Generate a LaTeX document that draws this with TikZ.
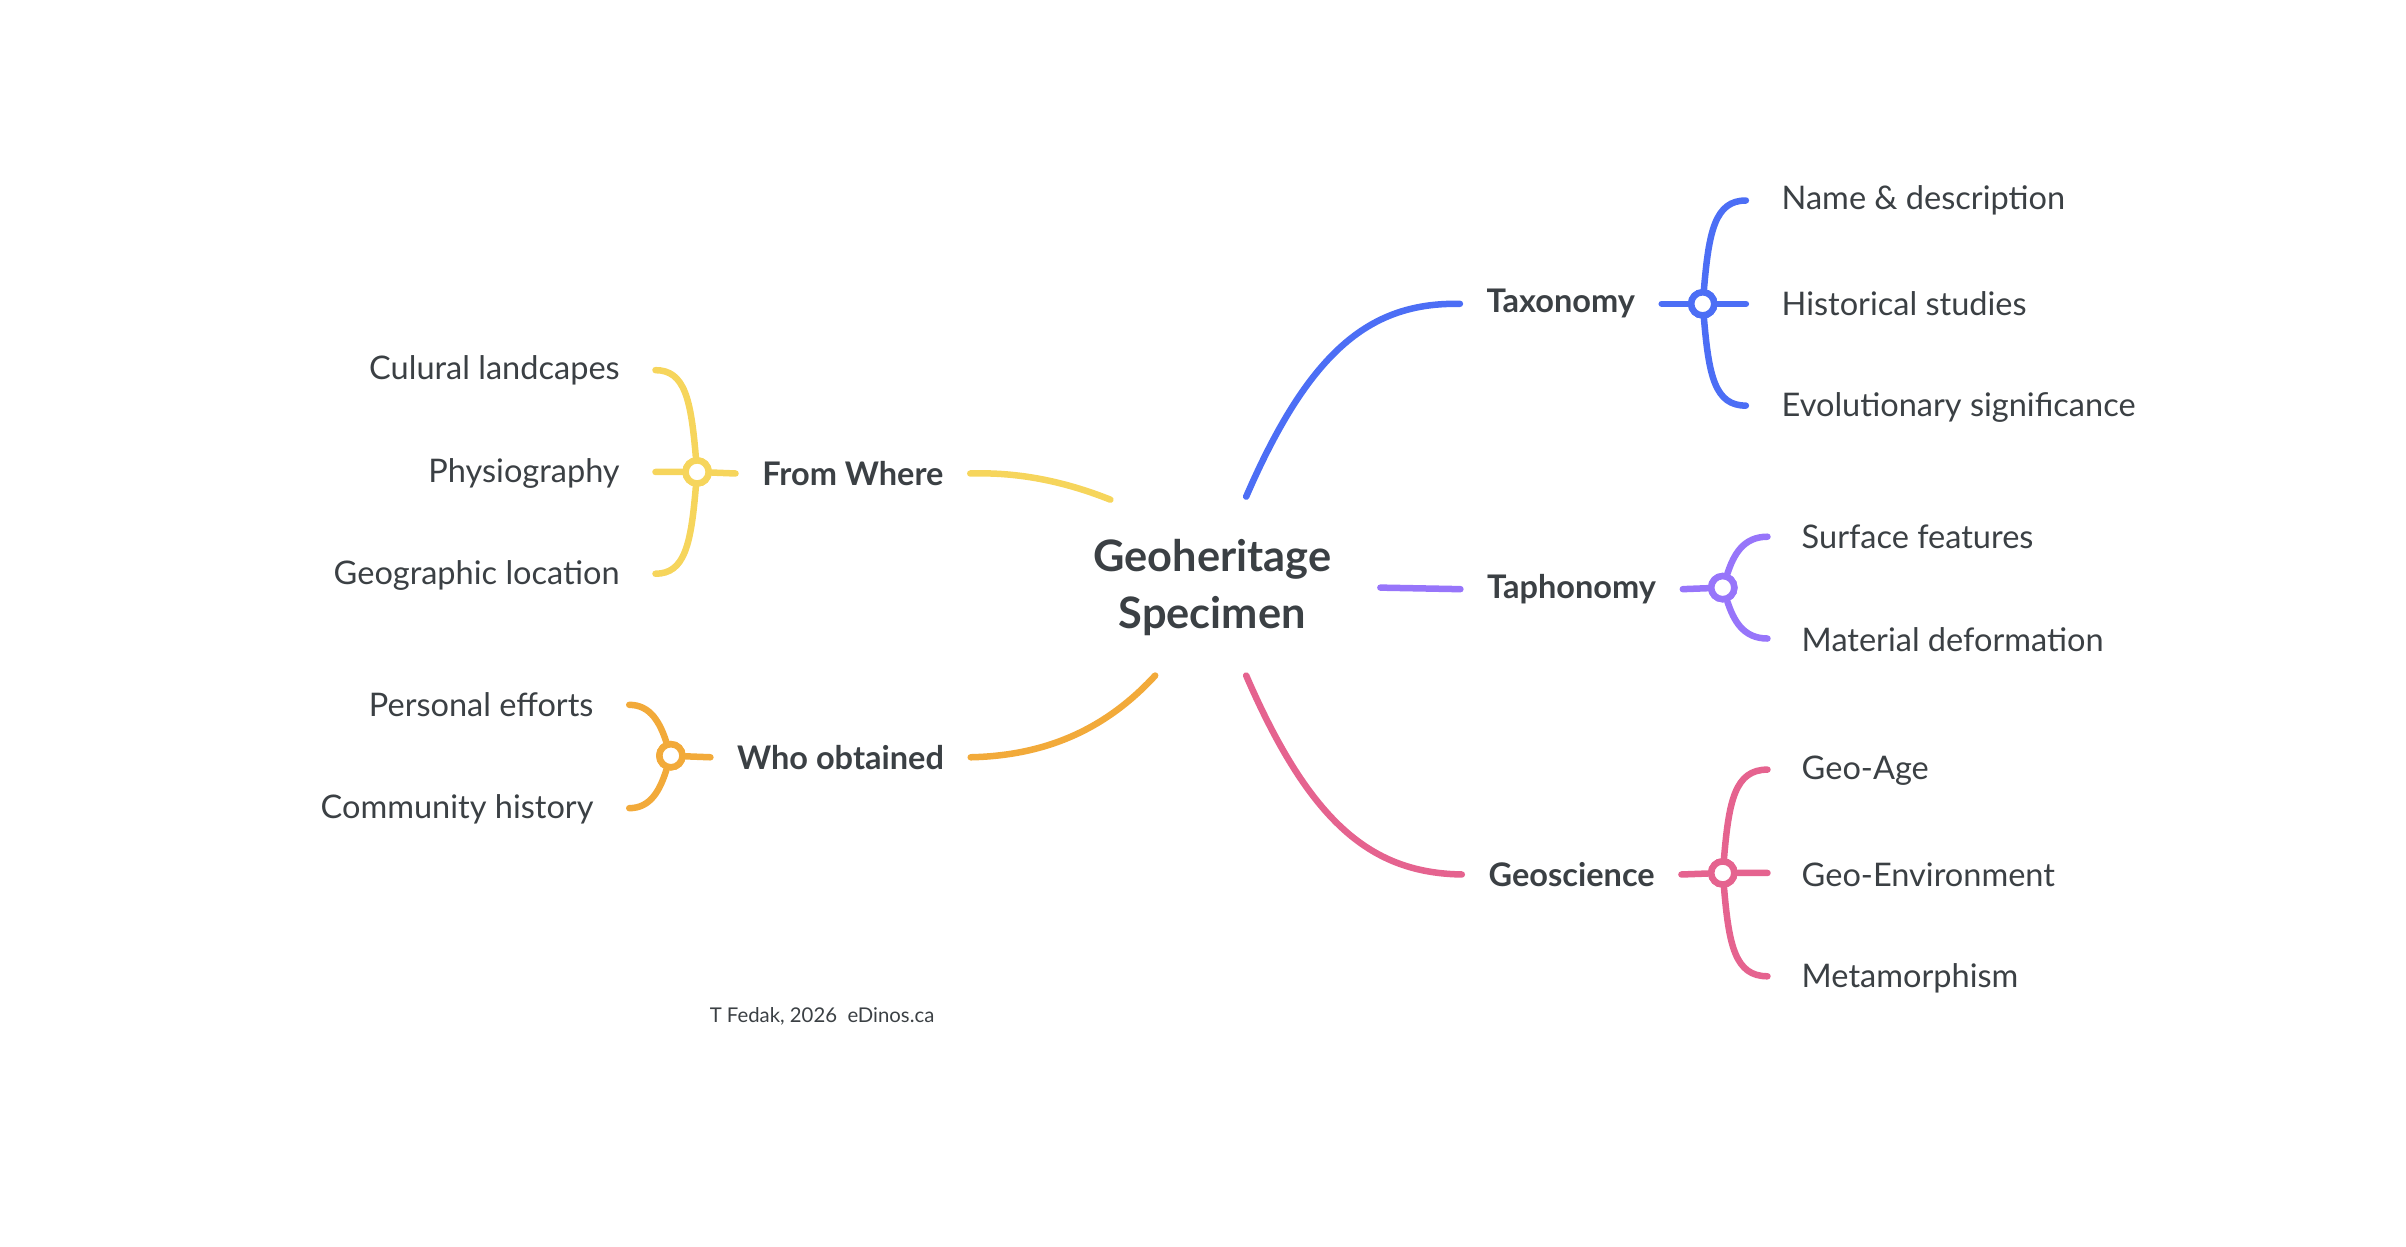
\documentclass[tikz,border=0pt]{standalone}
\usepackage{fontspec}
\setmainfont{Lato}
\usetikzlibrary{positioning}
\definecolor{ink}{HTML}{3B4044}
\definecolor{cblue}{HTML}{4C6EF5}
\definecolor{cpurple}{HTML}{9775FA}
\definecolor{cpink}{HTML}{E5638F}
\definecolor{cyellow}{HTML}{F6D55C}
\definecolor{corange}{HTML}{F2AA3A}
\tikzset{
  branch/.style={line width=2.4pt, line cap=round},
  hub/.style={circle, draw, fill=white, line width=2.4pt, minimum size=0.3cm, inner sep=0pt},
  topic/.style={font=\fontsize{12}{14}\selectfont\bfseries, text=ink, inner xsep=0.34cm},
  leafR/.style={font=\fontsize{12}{14}\selectfont, text=ink, anchor=west},
  leafL/.style={font=\fontsize{12}{14}\selectfont, text=ink, anchor=east}
}
\begin{document}
\begin{tikzpicture}[x=0.02cm, y=-0.02cm]
    \useasboundingbox (0,0) rectangle (1560,808);

    \node[font=\fontsize{16}{21}\selectfont\bfseries, text=ink, align=center] (root) at (786,381) {Geoheritage\\Specimen};
    \node[font=\fontsize{7.5}{9}\selectfont, text=ink] (sig) at (533,659) {T Fedak, 2026\ \ eDinos.ca};

    % taxonomy
    \coordinate (taxin) at (808,322);
    \node[topic] (tax) at (1012,197) {Taxonomy};
    \node[hub, draw=cblue] (taxhub) at (1104,197) {};
    \draw[branch, cblue] (taxin) .. controls (850,225) and (890,196) .. (tax.west);
    \coordinate (taxa) at (1132,130); \coordinate (taxb) at (1132,197); \coordinate (taxc) at (1132,263);
    \draw[branch, cblue] (tax.east) -- (taxhub) -- (taxb);
    \draw[branch, cblue] (taxhub) .. controls (1108,150) and (1112,130) .. (taxa);
    \draw[branch, cblue] (taxhub) .. controls (1108,244) and (1112,263) .. (taxc);
    \node[hub, draw=cblue] at (taxhub) {};
    \node[leafR] at (1149,130) {Name \& description};
    \node[leafR] at (1149,197) {Historical studies};
    \node[leafR] at (1149,264) {Evolutionary significance};

    % taphonomy
    \coordinate (tapin) at (895,381);
    \node[topic] (tap) at (1019,382) {Taphonomy};
    \node[hub, draw=cpurple] (taphub) at (1117,381) {};
    \draw[branch, cpurple] (tapin) -- (tap.west);
    \coordinate (tapa) at (1146,348); \coordinate (tapb) at (1146,414);
    \draw[branch, cpurple] (tap.east) -- (taphub);
    \draw[branch, cpurple] (taphub) .. controls (1124,360) and (1130,348) .. (tapa);
    \draw[branch, cpurple] (taphub) .. controls (1124,402) and (1130,414) .. (tapb);
    \node[hub, draw=cpurple] at (taphub) {};
    \node[leafR] at (1162,348) {Surface features};
    \node[leafR] at (1162,415) {Material deformation};

    % geoscience
    \coordinate (geoin) at (808,438);
    \node[topic] (geo) at (1019,567) {Geoscience};
    \node[hub, draw=cpink] (geohub) at (1117,566) {};
    \draw[branch, cpink] (geoin) .. controls (850,535) and (890,566) .. (geo.west);
    \coordinate (geoa) at (1146,499); \coordinate (geob) at (1146,566); \coordinate (geoc) at (1146,633);
    \draw[branch, cpink] (geo.east) -- (geohub) -- (geob);
    \draw[branch, cpink] (geohub) .. controls (1121,519) and (1125,499) .. (geoa);
    \draw[branch, cpink] (geohub) .. controls (1121,613) and (1125,633) .. (geoc);
    \node[hub, draw=cpink] at (geohub) {};
    \node[leafR] at (1162,500) {Geo-Age};
    \node[leafR] at (1162,567) {Geo-Environment};
    \node[leafR] at (1162,634) {Metamorphism};

    % from where
    \coordinate (fromin) at (720,324);
    \node[topic] (from) at (553,307) {From Where};
    \node[hub, draw=cyellow] (fromhub) at (452,306) {};
    \draw[branch, cyellow] (fromin) .. controls (690,312) and (660,306) .. (from.east);
    \coordinate (froma) at (425,240); \coordinate (fromb) at (425,306); \coordinate (fromc) at (425,372);
    \draw[branch, cyellow] (from.west) -- (fromhub) -- (fromb);
    \draw[branch, cyellow] (fromhub) .. controls (448,259) and (444,240) .. (froma);
    \draw[branch, cyellow] (fromhub) .. controls (448,353) and (444,372) .. (fromc);
    \node[hub, draw=cyellow] at (fromhub) {};
    \node[leafL] at (408,240) {Culural landcapes};
    \node[leafL] at (408,307) {Physiography};
    \node[leafL] at (408,373) {Geographic location};

    % who obtained
    \coordinate (whoin) at (749,438);
    \node[topic] (who) at (545,491) {Who obtained};
    \node[hub, draw=corange] (whohub) at (435,490) {};
    \draw[branch, corange] (whoin) .. controls (715,475) and (675,490) .. (who.east);
    \coordinate (whoa) at (408,457); \coordinate (whob) at (408,524);
    \draw[branch, corange] (who.west) -- (whohub);
    \draw[branch, corange] (whohub) .. controls (428,469) and (422,457) .. (whoa);
    \draw[branch, corange] (whohub) .. controls (428,512) and (422,524) .. (whob);
    \node[hub, draw=corange] at (whohub) {};
    \node[leafL] at (391,457) {Personal efforts};
    \node[leafL] at (391,525) {Community history};

\end{tikzpicture}
\end{document}
